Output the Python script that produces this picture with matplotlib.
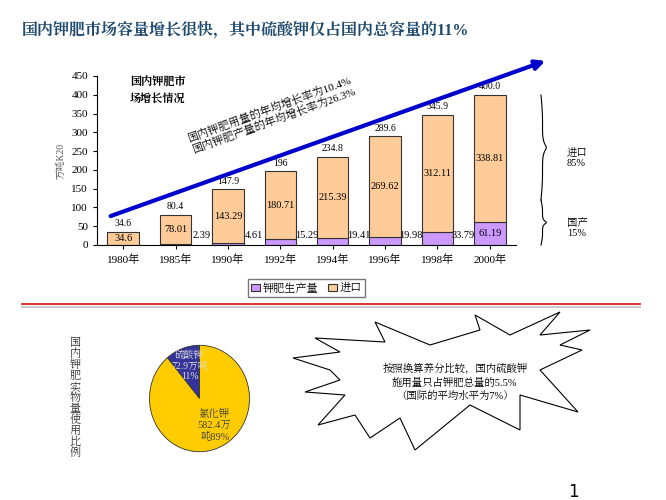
import numpy as np
import matplotlib.pyplot as plt
from matplotlib import font_manager
from matplotlib.patches import Polygon

cjk = None
for f in font_manager.fontManager.ttflist:
    if 'CJK' in f.name and ('SC' in f.name or cjk is None):
        cjk = f.name
plt.rcParams['font.family'] = ['Liberation Serif', cjk or 'DejaVu Sans']

years = ['1980年', '1985年', '1990年', '1992年', '1994年', '1996年', '1998年', '2000年']
domestic = [0, 2.39, 4.61, 15.29, 19.41, 19.98, 33.79, 61.19]
imports = [34.6, 78.01, 143.29, 180.71, 215.39, 269.62, 312.11, 338.81]
totals = [34.6, 80.4, 147.9, 196, 234.8, 289.6, 345.9, 400.0]
total_labels = ['34.6', '80.4', '147.9', '196', '234.8', '289.6', '345.9', '400.0']

pie_labels = ['硫酸钾\n72.9万吨\n11%', '氯化钾\n582.4万\n吨89%']
pie_values = [72.9, 582.4]

fig = plt.figure(figsize=(6.66, 5.0), dpi=100)
W, H = 666, 500

def fx(px):
    return px / W

def fy(py):
    return 1 - py / H

fig.text(fx(22), fy(30), '国内钾肥市场容量增长很快，其中硫酸钾仅占国内总容量的11%',
         fontsize=11.5, color='#1f4a6e', fontweight='bold', va='center')

# bar chart
ax = fig.add_axes([fx(97), fy(245), fx(516 - 97), (245 - 76) / H])
x = np.arange(len(years))
ax.bar(x, domestic, width=0.6, color='#cc99ff', edgecolor='#333333', linewidth=0.8,
       label='钾肥生产量')
ax.bar(x, imports, width=0.6, bottom=domestic, color='#ffcc99', edgecolor='#333333',
       linewidth=0.8, label='进口')
ax.set_xlim(-0.5, 7.5)
ax.set_ylim(0, 450)
ax.set_yticks(range(0, 451, 50))
ax.set_xticks(x)
ax.set_xticklabels(years)
ax.tick_params(labelsize=8, length=3)
for s in ['top', 'right']:
    ax.spines[s].set_visible(False)
ax.set_ylabel('万吨K20', fontsize=7, color='#555555')

for i in range(len(years)):
    ax.text(x[i], totals[i] + 15, total_labels[i], ha='center', fontsize=7)
    ax.text(x[i], domestic[i] + imports[i] / 2, f'{imports[i]:g}',
            ha='center', va='center', fontsize=7.5)
    if i == 0:
        continue
    if i == len(years) - 1:
        ax.text(x[i], domestic[i] / 2, f'{domestic[i]:g}', ha='center', va='center', fontsize=7.5)
    else:
        ax.text(x[i] + 0.5, 25, f'{domestic[i]:g}', ha='center', va='center', fontsize=7.5)

ax.legend(loc='upper center', bbox_to_anchor=(0.5, -0.17), ncol=2, fontsize=8,
          frameon=True, fancybox=False, edgecolor='#555555', handlelength=0.8,
          handletextpad=0.3, borderpad=0.3, columnspacing=0.8)

fig.text(fx(130), fy(90), '国内钾肥市\n场增长情况', fontsize=8, fontweight='bold',
         va='center', linespacing=1.6)
fig.text(fx(272), fy(115), '国内钾肥用量的年均增长率为10.4%\n国内钾肥产量的年均增长率为26.3%',
         fontsize=8, rotation=20, ha='center', va='center', linespacing=1.2)

ax.annotate('', xy=(fx(548), fy(60)), xytext=(fx(108), fy(217)),
            xycoords='figure fraction', textcoords='figure fraction',
            arrowprops=dict(arrowstyle='-|>', color='#0000cc', lw=3, mutation_scale=14))

# braces on right
def brace(y0, y1, xp):
    ys = np.linspace(y0, y1, 50)
    mid = (y0 + y1) / 2
    t = np.abs(ys - mid) / ((y1 - y0) / 2)
    xs = xp + 6 * (1 - t) ** 8 + 1.5 * np.sin(np.pi * (1 - t))
    fig.add_artist(plt.Line2D(fx(xs), fy(ys), color='black', lw=0.8))

brace(95, 200, 541)
brace(200, 245, 541)
fig.text(fx(567), fy(158), '进口\n85%', fontsize=7.5, va='center')
fig.text(fx(567), fy(228), '国产\n15%', fontsize=7.5, va='center')

# divider
fig.add_artist(plt.Line2D([fx(22), fx(640)], [fy(304), fy(304)], color='#dd2222', lw=1.3))
fig.add_artist(plt.Line2D([fx(22), fx(640)], [fy(307), fy(307)], color='#cccccc', lw=1.5))

fig.text(fx(75), fy(398), '\n'.join('国内钾肥实物量使用比例'), fontsize=8, ha='center',
         va='center', linespacing=1.05, color='#333333')

# pie
pax = fig.add_axes([fx(137), fy(465), fx(125), 133 / H])
pax.pie(pie_values, colors=['#333399', '#ffcc00'], startangle=90,
        counterclock=True, wedgeprops=dict(edgecolor='#333333', linewidth=0.6))
pax.set_aspect('auto')
pax.text(-0.2, 0.62, pie_labels[0], color='#dddddd', fontsize=7, ha='center', va='center')
pax.text(0.3, -0.5, pie_labels[1], color='#444444', fontsize=7.5, ha='center', va='center')

# starburst
star = [(330, 370), (293, 358), (340, 352), (315, 338), (385, 342), (375, 322), (430, 345),
        (480, 330), (475, 315), (510, 335), (560, 312), (540, 335), (590, 330), (560, 345),
        (582, 350), (540, 370), (578, 412), (520, 395), (520, 430), (470, 405), (415, 450),
        (400, 418), (370, 438), (355, 415), (318, 425), (345, 395), (305, 392), (340, 380)]
poly = Polygon([(fx(a), fy(b)) for a, b in star], closed=True, facecolor='white',
               edgecolor='black', lw=0.8, transform=fig.transFigure)
fig.add_artist(poly)
fig.text(fx(455), fy(382), '按照换算养分比较，国内硫酸钾\n施用量只占钾肥总量的5.5%\n（国际的平均水平为7%）',
         fontsize=7.5, ha='center', va='center', linespacing=1.4)

fig.text(fx(573), fy(492), '1', fontsize=12, ha='center', va='center', family='DejaVu Sans')

fig.savefig('out.png', dpi=100)
